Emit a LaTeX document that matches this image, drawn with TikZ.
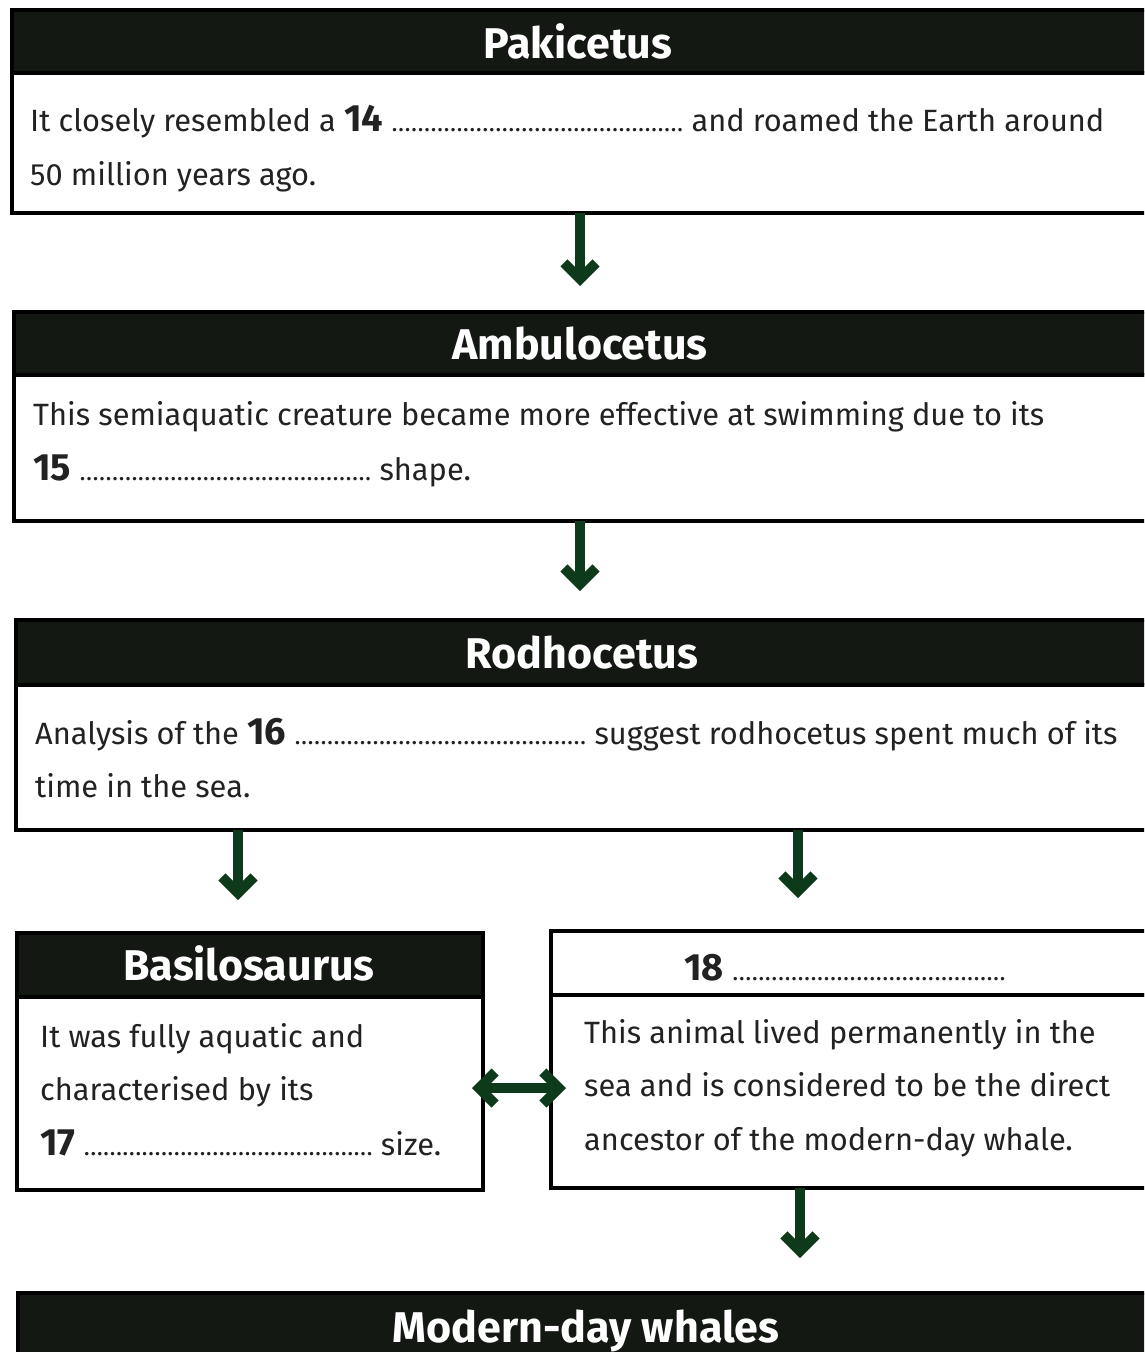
\documentclass[tikz,border=0pt]{standalone}
\usepackage{fontspec}
\setmainfont{Fira Sans}
\usetikzlibrary{arrows.meta}
\definecolor{hdrc}{HTML}{131813}
\definecolor{arrc}{HTML}{0E3A1C}
\definecolor{txtc}{HTML}{222222}
\newcommand\dotline[1]{\hbox to #1{\xleaders\hbox to 6.4pt{\hss\fontsize{19}{19}\selectfont\bfseries.\hss}\hfil}}
\newcommand\bnum[1]{{\fontsize{38}{40}\selectfont\bfseries #1}}
\begin{document}
\begin{tikzpicture}[x=1pt,y=-1pt,
  box/.style={draw=black, line width=3.5pt, fill=white, anchor=north west, inner sep=0pt, outer sep=0pt},
  hdr/.style={box, fill=hdrc},
  ttl/.style={text=white, font=\fontsize{43}{46}\selectfont\bfseries, inner sep=0pt, anchor=base},
  txt/.style={font=\fontsize{30.8}{34}\selectfont, anchor=base west, inner sep=0pt, text=txtc},
  arr/.style={draw=arrc, line width=10pt, -{Straight Barb[length=16pt,width=32pt]}},
  darr/.style={draw=arrc, line width=10pt, {Straight Barb[length=16pt,width=32pt]}-{Straight Barb[length=16pt,width=32pt]}}
]
\useasboundingbox (0,0) rectangle (1144,1352);
\clip (0,0) rectangle (1144,1352);
\fill[white] (0,0) rectangle (1144,1352);

% Pakicetus
\node[hdr, minimum width=1150pt, minimum height=63pt] (pakh) at (12,10) {};
\node[box, minimum width=1150pt, minimum height=140pt] (pakb) at (12,73) {};
\node[ttl] (pakt) at (578,58) {Pakicetus};
\node[txt] (pak1) at (30,131) {It closely resembled a \bnum{14} \dotline{292pt} and roamed the Earth around};
\node[txt] (pak2) at (30,185) {50 million years ago.};

% Ambulocetus
\node[hdr, minimum width=1150pt, minimum height=63pt] (ambh) at (14,312) {};
\node[box, minimum width=1150pt, minimum height=146pt] (ambb) at (14,375) {};
\node[ttl] (ambt) at (580,359) {Ambulocetus};
\node[txt] (amb1) at (33,425) {This semiaquatic creature became more effective at swimming due to its};
\node[txt] (amb2) at (33,480) {\bnum{15} \dotline{292pt} shape.};

% Rodhocetus
\node[hdr, minimum width=1150pt, minimum height=65pt] (rodh) at (16,620) {};
\node[box, minimum width=1150pt, minimum height=145pt] (rodb) at (16,685) {};
\node[ttl] (rodt) at (582,668) {Rodhocetus};
\node[txt] (rod1) at (35,744) {Analysis of the \bnum{16} \dotline{292pt} suggest rodhocetus spent much of its};
\node[txt] (rod2) at (35,797) {time in the sea.};

% Basilosaurus
\node[hdr, minimum width=466pt, minimum height=64pt] (bash) at (17,933) {};
\node[box, minimum width=466pt, minimum height=193pt] (basb) at (17,997) {};
\node[ttl] (bast) at (249,980) {Basilosaurus};
\node[txt] (bas1) at (40,1047) {It was fully aquatic and};
\node[txt] (bas2) at (40,1100) {characterised by its};
\node[txt] (bas3) at (40,1155) {\bnum{17} \dotline{289pt} size.};

% 18
\node[box, minimum width=600pt, minimum height=64pt] (eigh) at (551,931) {};
\node[box, minimum width=600pt, minimum height=193pt] (eigb) at (551,995) {};
\node[txt] (eigt) at (684,980) {\bnum{18} \dotline{274pt}};
\node[txt] (eig1) at (584,1043) {This animal lived permanently in the};
\node[txt] (eig2) at (584,1096) {sea and is considered to be the direct};
\node[txt] (eig3) at (584,1150) {ancestor of the modern-day whale.};

% Modern-day whales
\node[hdr, minimum width=1140pt, minimum height=70pt] (modh) at (18,1293) {};
\node[ttl] (modt) at (586,1342) {Modern-day whales};

% connectors
\coordinate (e1) at (580,286);
\coordinate (e2) at (580,591);
\coordinate (e3) at (238,900);
\coordinate (e4) at (798,898);
\coordinate (e5) at (800,1258);
\coordinate (dl) at (472,1088);
\coordinate (dr) at (566,1088);
\draw[arr] (pakb.south -| e1) -- (e1);
\draw[arr] (ambb.south -| e2) -- (e2);
\draw[arr] (rodb.south -| e3) -- (e3);
\draw[arr] (rodb.south -| e4) -- (e4);
\draw[arr] (eigb.south -| e5) -- (e5);
\draw[darr, shorten <=-11pt, shorten >=-15pt] (basb.east |- dl) -- (eigb.west |- dr);
\end{tikzpicture}
\end{document}
